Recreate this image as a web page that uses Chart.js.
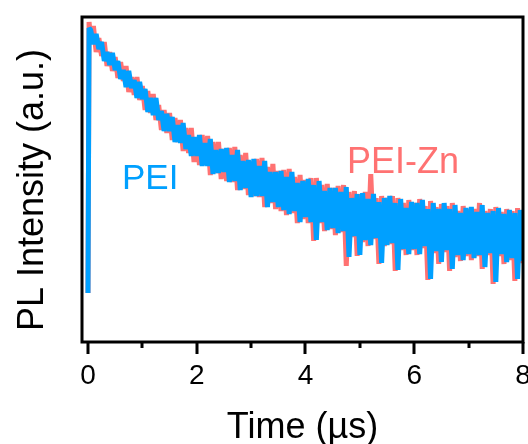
<!DOCTYPE html>
<html>
<head>
<meta charset="UTF-8">
<title>PL decay</title>
<script src="https://cdn.jsdelivr.net/npm/chart.js"></script>
<style>
  body { margin: 0; background: #fff; }
  #chart { display: block; }
</style>
</head>
<body>
<canvas id="chart" width="528" height="444"></canvas>
<script>
// time axis (µs)
const times = [
  0, 0.02,
  0.05, 0.1, 0.15, 0.2, 0.25, 0.3, 0.35, 0.4, 0.45, 0.5,
  0.55, 0.6, 0.65, 0.7, 0.75, 0.8, 0.85, 0.9, 0.95, 1,
  1.05, 1.1, 1.15, 1.2, 1.25, 1.3, 1.35, 1.4, 1.45, 1.5,
  1.55, 1.6, 1.65, 1.7, 1.75, 1.8, 1.85, 1.9, 1.95, 2,
  2.05, 2.1, 2.15, 2.2, 2.25, 2.3, 2.35, 2.4, 2.45, 2.5,
  2.55, 2.6, 2.65, 2.7, 2.75, 2.8, 2.85, 2.9, 2.95, 3,
  3.05, 3.1, 3.15, 3.2, 3.25, 3.3, 3.35, 3.4, 3.45, 3.5,
  3.55, 3.6, 3.65, 3.7, 3.75, 3.8, 3.85, 3.9, 3.95, 4,
  4.05, 4.1, 4.15, 4.2, 4.25, 4.3, 4.35, 4.4, 4.45, 4.5,
  4.55, 4.6, 4.65, 4.7, 4.75, 4.8, 4.85, 4.9, 4.95, 5,
  5.05, 5.1, 5.15, 5.2, 5.25, 5.3, 5.35, 5.4, 5.45, 5.5,
  5.55, 5.6, 5.65, 5.7, 5.75, 5.8, 5.85, 5.9, 5.95, 6,
  6.05, 6.1, 6.15, 6.2, 6.25, 6.3, 6.35, 6.4, 6.45, 6.5,
  6.55, 6.6, 6.65, 6.7, 6.75, 6.8, 6.85, 6.9, 6.95, 7,
  7.05, 7.1, 7.15, 7.2, 7.25, 7.3, 7.35, 7.4, 7.45, 7.5,
  7.55, 7.6, 7.65, 7.7, 7.75, 7.8, 7.85, 7.9, 7.95, 8
];

// PL intensity, arbitrary units
const pei = [
  49, 314,
  312, 298, 308, 293, 300, 281, 290, 277, 289, 272,
  281, 263, 272, 255, 271, 254, 262, 244, 260, 243,
  253, 230, 244, 227, 244, 222, 231, 211, 228, 211,
  225, 200, 217, 199, 219, 193, 207, 186, 205, 186,
  207, 176, 199, 176, 203, 168, 192, 169, 193, 170,
  194, 160, 187, 161, 192, 152, 181, 154, 182, 145,
  183, 146, 176, 146, 181, 135, 170, 140, 170, 135,
  171, 132, 165, 128, 170, 131, 159, 120, 161, 125,
  163, 120, 157, 102, 161, 120, 151, 112, 154, 114,
  154, 109, 150, 111, 155, 85, 144, 106, 148, 87,
  149, 102, 143, 97, 148, 104, 140, 79, 144, 97,
  146, 99, 139, 72, 143, 93, 134, 88, 140, 93,
  139, 88, 142, 96, 133, 63, 139, 91, 133, 80,
  139, 92, 133, 73, 137, 87, 129, 82, 134, 88,
  135, 84, 130, 87, 137, 75, 129, 89, 131, 60,
  134, 88, 128, 80, 132, 84, 129, 63, 132, 81
];

const peiZn = [
  49, 320,
  303, 316, 290, 304, 286, 300, 276, 290, 271, 285,
  264, 280, 261, 276, 250, 265, 247, 265, 242, 256,
  232, 251, 229, 248, 222, 237, 212, 232, 209, 229,
  202, 224, 200, 222, 191, 214, 189, 214, 180, 204,
  177, 207, 177, 206, 167, 200, 169, 200, 163, 193,
  161, 194, 160, 195, 152, 187, 153, 189, 147, 181,
  146, 183, 145, 184, 135, 175, 139, 178, 133, 171,
  131, 172, 127, 173, 129, 165, 119, 167, 123, 162,
  119, 164, 101, 164, 119, 157, 111, 158, 113, 154,
  107, 156, 110, 157, 76, 150, 105, 151, 86, 148,
  100, 150, 96, 168, 103, 144, 78, 146, 96, 144,
  98, 146, 71, 144, 92, 139, 87, 142, 92, 139,
  87, 143, 94, 136, 62, 141, 89, 135, 78, 138,
  90, 136, 71, 139, 85, 131, 81, 136, 86, 133,
  82, 133, 86, 139, 73, 131, 87, 133, 58, 135,
  86, 130, 78, 133, 82, 131, 61, 134, 79, 131
];

const majorTicks = [0, 2, 4, 6, 8];
const minorTicks = [1, 3, 5, 7];

const BLUE = '#00A0FF';
const RED = '#FF7272';
const FONT = "'Liberation Sans', Arial, sans-serif";

const toPoints = vals => vals.map((v, i) => ({ x: times[i], y: v }));

// frame, tick marks and text labels
const decorations = {
  id: 'decorations',
  afterDraw(chart) {
    const ctx = chart.ctx;
    const a = chart.chartArea;
    const xs = chart.scales.x;
    ctx.save();
    ctx.strokeStyle = '#000';
    ctx.lineWidth = 3;
    ctx.strokeRect(a.left, a.top, a.right - a.left, a.bottom - a.top);

    ctx.beginPath();
    majorTicks.forEach(v => {
      const px = Math.round(xs.getPixelForValue(v));
      ctx.moveTo(px, a.bottom);
      ctx.lineTo(px, a.bottom + 12);
    });
    minorTicks.forEach(v => {
      const px = Math.round(xs.getPixelForValue(v));
      ctx.moveTo(px, a.bottom);
      ctx.lineTo(px, a.bottom + 6);
    });
    ctx.stroke();

    ctx.fillStyle = '#000';
    ctx.font = '36px ' + FONT;
    ctx.textAlign = 'center';
    ctx.textBaseline = 'alphabetic';
    ctx.fillText('Time (µs)', (a.left + a.right) / 2, 438);

    ctx.save();
    ctx.translate(43, 190);
    ctx.rotate(-Math.PI / 2);
    ctx.fillText('PL Intensity (a.u.)', 0, 0);
    ctx.restore();

    ctx.textAlign = 'left';
    ctx.font = '35px ' + FONT;
    ctx.fillStyle = BLUE;
    ctx.fillText('PEI', 122, 189);
    ctx.font = '36px ' + FONT;
    ctx.fillStyle = RED;
    ctx.fillText('PEI-Zn', 347, 173);
    ctx.restore();
  }
};

new Chart(document.getElementById('chart'), {
  type: 'line',
  data: {
    datasets: [
      {
        label: 'PEI',
        data: toPoints(pei),
        borderColor: BLUE,
        borderWidth: 5,
        borderJoinStyle: 'bevel',
        pointRadius: 0,
        tension: 0
      },
      {
        label: 'PEI-Zn',
        data: toPoints(peiZn),
        borderColor: RED,
        borderWidth: 5,
        borderJoinStyle: 'bevel',
        pointRadius: 0,
        tension: 0
      }
    ]
  },
  options: {
    responsive: false,
    animation: false,
    layout: { padding: { left: 0, right: 5, top: 17, bottom: 0 } },
    plugins: { legend: { display: false }, tooltip: { enabled: false } },
    scales: {
      x: {
        type: 'linear',
        min: -0.11,
        max: 8,
        afterBuildTicks: axis => { axis.ticks = majorTicks.map(v => ({ value: v })); },
        afterFit: axis => { axis.height = 102; axis.paddingLeft = 0; axis.paddingRight = 0; },
        grid: { display: false, drawTicks: false, tickLength: 0 },
        border: { display: false },
        ticks: {
          color: '#000',
          font: { family: FONT, size: 28 },
          padding: 17,
          maxRotation: 0
        }
      },
      y: {
        min: 0,
        max: 325,
        afterFit: axis => { axis.width = 82; },
        grid: { display: false, drawTicks: false },
        border: { display: false },
        ticks: { display: false }
      }
    }
  },
  plugins: [decorations]
});
</script>
</body>
</html>
